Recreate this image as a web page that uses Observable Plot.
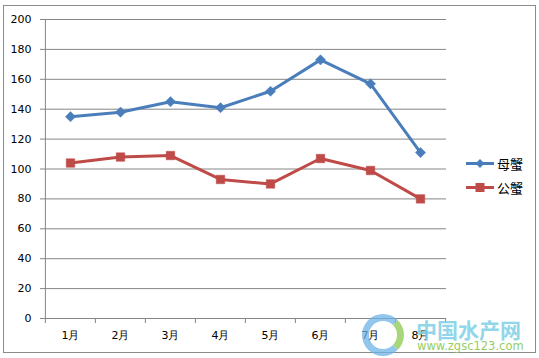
<!DOCTYPE html>
<html>
<head>
<meta charset="utf-8">
<script src="https://cdn.jsdelivr.net/npm/d3@7"></script>
<script src="https://cdn.jsdelivr.net/npm/@observablehq/plot@0.6"></script>
<style>
  html, body { margin: 0; padding: 0; background: #fff; }
  #wrap { position: relative; width: 539px; height: 358px; overflow: hidden; background: #fff; font-family: "DejaVu Sans", "Noto Sans CJK SC", sans-serif; }
  #border { position: absolute; left: 3px; top: 5px; width: 531px; height: 346px; border: 1.5px solid #8c8c8c; pointer-events: none; }
  #chart { position: absolute; left: 0; top: 0; }
  .leg { position: absolute; left: 466px; display: flex; align-items: center; font-family: "Noto Sans CJK SC", sans-serif; font-size: 13px; color: #000; }
  .leg svg { margin-right: 3px; }
  #wm1 { position: absolute; left: 416px; top: 314px; font-family: "Noto Sans CJK SC", sans-serif; font-weight: bold; font-size: 21px; color: #7fd0e6; opacity: 0.85; letter-spacing: 0px; }
  #wm2 { position: absolute; left: 417px; top: 339px; font-family: "DejaVu Sans", sans-serif; font-size: 11.5px; color: #8cc94f; opacity: 0.9; }
  #wm3 { position: absolute; left: 362px; top: 314px; width: 42px; height: 42px; border-radius: 50%; border: 7px solid #6fb3e6; border-right-color: #8cc94f; opacity: 0.75; box-sizing: border-box; }
</style>
</head>
<body>
<div id="wrap">
  <div id="chart"></div>
  <div id="border"></div>
  <div id="wm3"></div>
  <div id="wm1">中国水产网</div>
  <div id="wm2">www.zgsc123.com</div>
</div>
<script>
const months = ["1月", "2月", "3月", "4月", "5月", "6月", "7月", "8月"];
const femaleValues = [135, 138, 145, 141, 152, 173, 157, 111];
const maleValues = [104, 108, 109, 93, 90, 107, 99, 80];
const yTicks = [0, 20, 40, 60, 80, 100, 120, 140, 160, 180, 200];
const seriesNames = ["母蟹", "公蟹"];
const seriesColors = ["#4a7ebb", "#be4b48"];

const female = months.map((m, i) => ({month: m, value: femaleValues[i]}));
const male = months.map((m, i) => ({month: m, value: maleValues[i]}));

const W = 539, H = 358;
const mL = 44, mR = 93, mT = 19, mB = 40;
const step = (W - mL - mR) / months.length;

const chart = Plot.plot({
  width: W,
  height: H,
  marginLeft: mL,
  marginRight: mR,
  marginTop: mT,
  marginBottom: mB,
  style: {background: "transparent", fontFamily: "DejaVu Sans, sans-serif", fontSize: "11px", color: "#000"},
  x: {type: "point", domain: months, padding: 0.5, label: null},
  y: {domain: [0, 200], label: null},
  marks: [
    Plot.gridY(yTicks, {stroke: "#868686", strokeOpacity: 1, strokeWidth: 1}),
    Plot.axisY(yTicks, {tickSize: 4, tickPadding: 9, stroke: "#868686", fontSize: 11, fill: "#000", label: null}),
    Plot.ruleX([months[0]], {dx: -step / 2, stroke: "#868686", strokeWidth: 1}),
    Plot.axisX({tickSize: 5, dx: -step / 2, tickFormat: () => "", stroke: "#868686", label: null}),
    Plot.axisX([months[months.length - 1]], {tickSize: 5, dx: step / 2, tickFormat: () => "", stroke: "#868686", label: null}),
    Plot.axisX({tickSize: 0, tickPadding: 13, fontSize: 11, fill: "#000", label: null}),
    Plot.line(female, {x: "month", y: "value", stroke: seriesColors[0], strokeWidth: 3}),
    Plot.dot(female, {x: "month", y: "value", symbol: "diamond2", r: 4.6, fill: seriesColors[0], stroke: seriesColors[0], strokeWidth: 0.5}),
    Plot.line(male, {x: "month", y: "value", stroke: seriesColors[1], strokeWidth: 3}),
    Plot.dot(male, {x: "month", y: "value", symbol: "square", r: 4.8, fill: seriesColors[1], stroke: seriesColors[1], strokeWidth: 0.5})
  ]
});
document.getElementById("chart").appendChild(chart);

// Legend (HTML)
const wrap = document.getElementById("wrap");
const legTops = [154, 178];
seriesNames.forEach((name, i) => {
  const d = document.createElement("div");
  d.className = "leg";
  d.style.top = legTops[i] + "px";
  const marker = i === 0
    ? `<path d="M14,5 L18.5,9.5 L14,14 L9.5,9.5 Z" fill="${seriesColors[i]}"/>`
    : `<rect x="9.5" y="5" width="9" height="9" fill="${seriesColors[i]}"/>`;
  d.innerHTML = `<svg width="28" height="19"><line x1="0" x2="28" y1="9.5" y2="9.5" stroke="${seriesColors[i]}" stroke-width="3"/>${marker}</svg><span>${name}</span>`;
  wrap.appendChild(d);
});
</script>
</body>
</html>
